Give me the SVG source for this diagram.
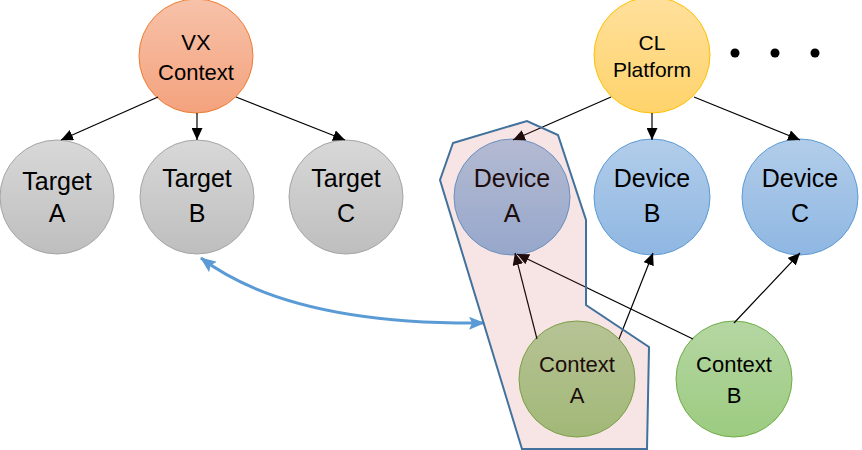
<svg xmlns="http://www.w3.org/2000/svg" width="862" height="450" viewBox="0 0 862 450">
<defs>
<linearGradient id="gOrange" x1="0" y1="0" x2="0" y2="1"><stop offset="0" stop-color="#F7C2A9"/><stop offset="1" stop-color="#F4A27D"/></linearGradient>
<linearGradient id="gGray" x1="0" y1="0" x2="0" y2="1"><stop offset="0" stop-color="#D8D8D8"/><stop offset="1" stop-color="#BEBEBE"/></linearGradient>
<linearGradient id="gYellow" x1="0" y1="0" x2="0" y2="1"><stop offset="0" stop-color="#FFE09C"/><stop offset="1" stop-color="#FFD36B"/></linearGradient>
<linearGradient id="gBlue" x1="0" y1="0" x2="0" y2="1"><stop offset="0" stop-color="#B2CDEA"/><stop offset="1" stop-color="#8FB7E2"/></linearGradient>
<linearGradient id="gGreen" x1="0" y1="0" x2="0" y2="1"><stop offset="0" stop-color="#B5D7A3"/><stop offset="1" stop-color="#9CCB80"/></linearGradient>
<marker id="arr" markerUnits="userSpaceOnUse" markerWidth="13" markerHeight="11" refX="12" refY="5.5" orient="auto"><path d="M0,0 L12,5.5 L0,11 z" fill="#000"/></marker>
<marker id="barr" markerUnits="userSpaceOnUse" markerWidth="17" markerHeight="13" refX="15" refY="6.5" orient="auto-start-reverse"><path d="M0,0 L16,6.5 L0,13 L3,6.5 z" fill="#5B9BD5"/></marker>
</defs>
<style>
.t{font-family:"Liberation Sans",Arial,sans-serif;text-anchor:middle;fill:#000}
.s22{font-size:22px}.s21{font-size:21px}.s25{font-size:25px}
.orange{fill:url(#gOrange);stroke:#ED7D31;stroke-width:1}
.gray{fill:url(#gGray);stroke:#A5A5A5;stroke-width:1}
.yellow{fill:url(#gYellow);stroke:#FFC000;stroke-width:1}
.blue{fill:url(#gBlue);stroke:#5B9BD5;stroke-width:1}
.green{fill:url(#gGreen);stroke:#70AD47;stroke-width:1}
.c{stroke:#000;stroke-width:1.2;fill:none;marker-end:url(#arr)}
</style>
<rect width="862" height="450" fill="#fff"/>
<g id="vx-context"><circle cx="196" cy="56" r="57" class="orange"/><text class="t s22" x="196" y="50">VX</text><text class="t s22" x="196" y="80">Context</text></g>
<g id="target-a"><circle cx="57" cy="197" r="57" class="gray"/><text class="t s25" x="57" y="190">Target</text><text class="t s25" x="57" y="222">A</text></g>
<g id="target-b"><circle cx="197" cy="197" r="57" class="gray"/><text class="t s25" x="197" y="187">Target</text><text class="t s25" x="197" y="222">B</text></g>
<g id="target-c"><circle cx="346" cy="197" r="57" class="gray"/><text class="t s25" x="346" y="187">Target</text><text class="t s25" x="346" y="222">C</text></g>
<g id="cl-platform"><circle cx="652" cy="55" r="58" class="yellow"/><text class="t s21" x="652" y="50">CL</text><text class="t s21" x="652" y="77">Platform</text></g>
<g id="ellipsis"><circle cx="735" cy="53" r="4.5" fill="#000"/><circle cx="775" cy="53" r="4.5" fill="#000"/><circle cx="815" cy="53" r="4.5" fill="#000"/></g>
<g id="device-a"><circle cx="512" cy="197" r="58" class="blue"/><text class="t s25" x="512" y="187">Device</text><text class="t s25" x="512" y="222">A</text></g>
<g id="device-b"><circle cx="652" cy="197" r="58" class="blue"/><text class="t s25" x="652" y="187">Device</text><text class="t s25" x="652" y="222">B</text></g>
<g id="device-c"><circle cx="800" cy="197" r="58" class="blue"/><text class="t s25" x="800" y="187">Device</text><text class="t s25" x="800" y="222">C</text></g>
<g id="context-a"><circle cx="577" cy="379" r="58" class="green"/><text class="t s22" x="577" y="372">Context</text><text class="t s22" x="577" y="403">A</text></g>
<g id="context-b"><circle cx="734" cy="379" r="58" class="green"/><text class="t s22" x="734" y="372">Context</text><text class="t s22" x="734" y="403">B</text></g>
<g id="connectors">
<line class="c" x1="158" y1="97" x2="61" y2="140"/>
<line class="c" x1="197" y1="113" x2="197" y2="140"/>
<line class="c" x1="236" y1="97" x2="345" y2="140"/>
<line class="c" x1="611" y1="97" x2="513" y2="140"/>
<line class="c" x1="652" y1="113" x2="652" y2="140"/>
<line class="c" x1="694" y1="97" x2="800" y2="140"/>
<line class="c" x1="537" y1="339" x2="515" y2="253"/>
<line class="c" x1="619" y1="339" x2="653" y2="253"/>
<line class="c" x1="693" y1="339" x2="517" y2="254"/>
<line class="c" x1="734" y1="323" x2="800" y2="253"/>
<path d="M201,258 Q290,325 484,323" fill="none" stroke="#5B9BD5" stroke-width="3" marker-start="url(#barr)" marker-end="url(#barr)"/>
</g>
<g id="highlight"><polygon points="453,143 527,121 558,135 586,220 586,305 649,347 647,449 522,449 440,180" fill="#C0504D" fill-opacity="0.15" stroke="#41719C" stroke-width="2" stroke-linejoin="miter"/></g>
</svg>
